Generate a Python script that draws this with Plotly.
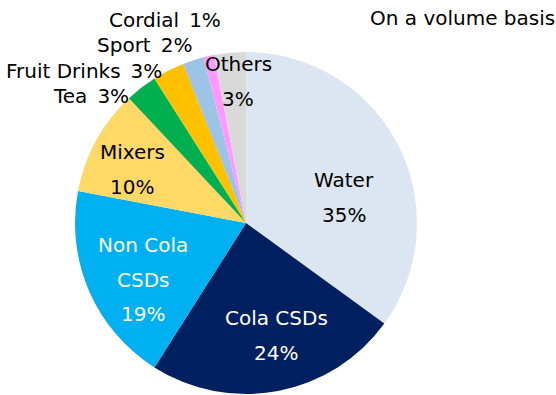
import plotly.graph_objects as go

# share of drinks market, on a volume basis (%)
categories = ['Water', 'Cola CSDs', 'Non Cola CSDs', 'Mixers', 'Tea',
              'Fruit Drinks', 'Sport', 'Cordial', 'Others']
shares = [35, 24, 19, 10, 3, 3, 2, 1, 3]
colors = ['#DCE6F2', '#002060', '#00B0F0', '#FFD966', '#00B050',
          '#FFC000', '#9DC3E6', '#FF99FF', '#D9D9D9']

W, H = 556, 395
FONT = 'DejaVu Sans'
SP = '\u2002'  # wider gap between name and percent in the outside labels

# label lines, placed by hand in pixels: (centre x, first line y, colour)
label_lines = {
    'Water': ['Water', '35%'],
    'Cola CSDs': ['Cola CSDs', '24%'],
    'Non Cola CSDs': ['Non Cola', 'CSDs', '19%'],
    'Mixers': ['Mixers', '10%'],
    'Tea': ['Tea' + SP + '3%'],
    'Fruit Drinks': ['Fruit Drinks' + SP + '3%'],
    'Sport': ['Sport' + SP + '2%'],
    'Cordial': ['Cordial' + SP + '1%'],
    'Others': ['Others', '3%'],
}
label_pos = {
    'Water': (344, 180, 'black'),
    'Cola CSDs': (276, 318, 'white'),
    'Non Cola CSDs': (143, 245, 'white'),
    'Mixers': (132, 152, 'black'),
    'Tea': (91, 96, 'black'),
    'Fruit Drinks': (84, 71, 'black'),
    'Sport': (144, 45, 'black'),
    'Cordial': (165, 20, 'black'),
    'Others': (238, 64, 'black'),
}
LINE = 34.5

cx, cy, r = 246, 223, 171

fig = go.Figure(go.Pie(
    labels=categories,
    values=shares,
    sort=False,
    direction='clockwise',
    rotation=0,
    marker=dict(colors=colors, line=dict(color='white', width=0)),
    textinfo='none',
    hoverinfo='label+percent',
    showlegend=False,
    domain=dict(x=[(cx - r) / W, (cx + r) / W],
                y=[(H - cy - r) / H, (H - cy + r) / H]),
))

for cat in categories:
    px, py, col = label_pos[cat]
    for i, line in enumerate(label_lines[cat]):
        fig.add_annotation(
            x=px / W, y=1 - (py + i * LINE) / H, xref='paper', yref='paper',
            text=line, showarrow=False,
            font=dict(family=FONT, size=20, color=col),
            xanchor='center', yanchor='middle',
        )

fig.add_annotation(
    x=1, y=1 - 18 / H, xref='paper', yref='paper',
    text='On a volume basis', showarrow=False,
    font=dict(family=FONT, size=20, color='black'),
    xanchor='right', yanchor='middle', borderpad=0,
)

fig.update_layout(
    width=W, height=H,
    margin=dict(l=0, r=0, t=0, b=0),
    paper_bgcolor='white', plot_bgcolor='white',
    font=dict(family=FONT),
)

fig.write_html('out.html', config={'displayModeBar': False},
               post_script="document.body.style.margin='0';")
